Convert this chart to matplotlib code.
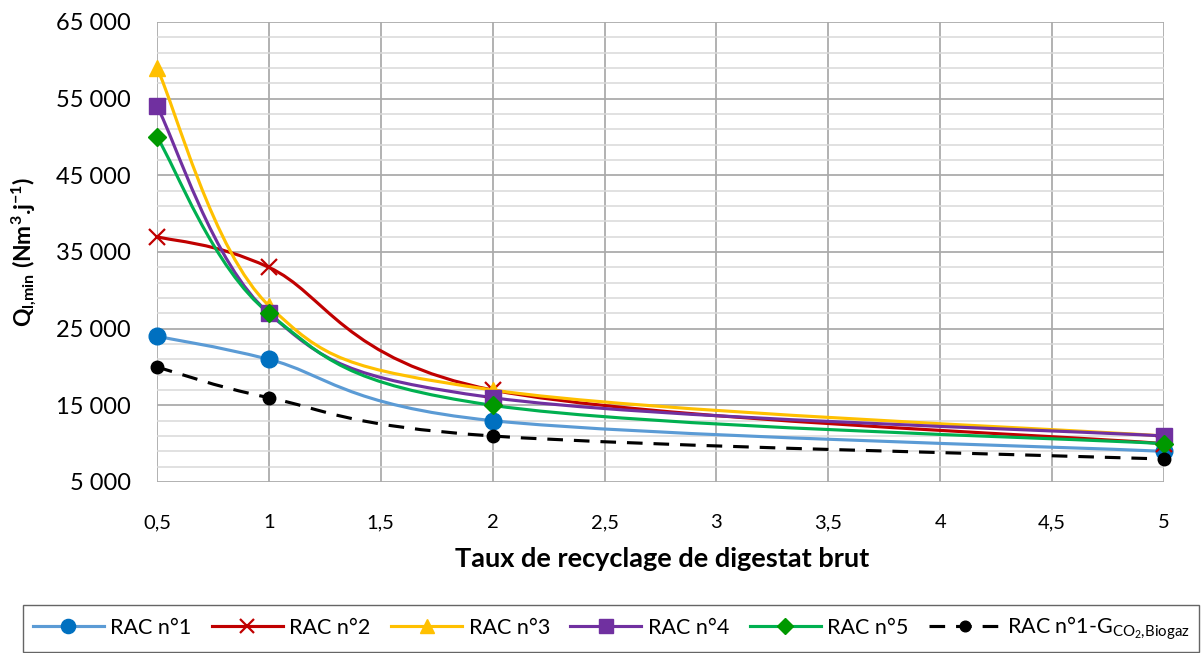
import matplotlib
matplotlib.use('Agg')
import matplotlib.pyplot as plt
from matplotlib.path import Path
from matplotlib.patches import PathPatch
from matplotlib.lines import Line2D
from matplotlib.ticker import FuncFormatter, FixedLocator
import numpy as np

plt.rcParams['font.family'] = ['Lato', 'DejaVu Sans']
plt.rcParams['mathtext.default'] = 'regular'

# data
taux = [0.5, 1, 2, 5]
rac1 = [24000, 21000, 13000, 9000]
rac2 = [37000, 33000, 17000, 10000]
rac3 = [59000, 28000, 17000, 11000]
rac4 = [54000, 27000, 16000, 11000]
rac5 = [50000, 27000, 15000, 10000]
rac1_g = [20000, 16000, 11000, 8000]

labels = ['RAC n°1', 'RAC n°2', 'RAC n°3', 'RAC n°4', 'RAC n°5',
          r'RAC n°1-G$_{CO_2{,}Biogaz}$']
x_tick_labels = ['0,5', '1', '1,5', '2', '2,5', '3', '3,5', '4', '4,5', '5']

styles = [
    dict(color='#5B9BD5', mfc='#0070C0', mec='#0070C0', marker='o', ms=12, ls='-'),
    dict(color='#C00000', mfc='#C00000', mec='#C00000', marker='x', ms=12, ls='-', mew=1.6),
    dict(color='#FFC000', mfc='#FFC000', mec='#FFC000', marker='^', ms=12, ls='-'),
    dict(color='#7030A0', mfc='#7030A0', mec='#7030A0', marker='s', ms=12, ls='-'),
    dict(color='#00B050', mfc='#009900', mec='#009900', marker='D', ms=9, ls='-'),
    dict(color='black', mfc='black', mec='black', marker='o', ms=9, ls=(0, (5, 3.5))),
]


def smooth_path(x, y):
    """Excel-like smoothed line: cubic bezier through the points."""
    pts = np.column_stack([x, y]).astype(float)
    n = len(pts)
    verts = [pts[0]]
    codes = [Path.MOVETO]
    for i in range(n - 1):
        p0 = pts[max(i - 1, 0)]
        p1 = pts[i]
        p2 = pts[i + 1]
        p3 = pts[min(i + 2, n - 1)]
        c1 = p1 + (p2 - p0) / 6.0
        c2 = p2 - (p3 - p1) / 6.0
        verts += [c1, c2, p2]
        codes += [Path.CURVE4] * 3
    return Path(verts, codes)


fig = plt.figure(figsize=(12.01, 6.53), dpi=100)
ax = fig.add_axes([157 / 1201, 1 - 482 / 653, (1164 - 157) / 1201, (482 - 22) / 653])

series = [rac1, rac2, rac3, rac4, rac5, rac1_g]
handles = []
for vals, st, lab in zip(series, styles, labels):
    patch = PathPatch(smooth_path(taux, vals), fill=False, edgecolor=st['color'],
                      lw=2.25, linestyle=st['ls'], capstyle='butt', zorder=3)
    ax.add_patch(patch)
    ax.plot(taux, vals, linestyle='none', marker=st['marker'], ms=st['ms'],
            mfc=st['mfc'], mec=st['mec'], mew=st.get('mew', 1.0), zorder=4,
            clip_on=False)
    handles.append(Line2D([], [], color=st['color'], lw=2.25, ls=st['ls'],
                          marker=st['marker'], ms=st['ms'] * 0.85, mfc=st['mfc'],
                          mec=st['mec'], mew=st.get('mew', 1.0)))

ax.set_xlim(0.5, 5)
ax.set_ylim(5000, 65000)
ax.set_xticks(np.arange(0.5, 5.01, 0.5))
ax.set_xticklabels(x_tick_labels)
ax.yaxis.set_major_locator(FixedLocator(np.arange(5000, 65001, 10000)))
ax.yaxis.set_minor_locator(FixedLocator(np.arange(5000, 65001, 2000)))
ax.yaxis.set_major_formatter(FuncFormatter(lambda v, p: f'{int(v):,}'.replace(',', ' ')))

ax.grid(True, which='major', color='#ABABAB', lw=1.3, zorder=1)
ax.grid(True, which='minor', axis='y', color='#D9D9D9', lw=1.1, zorder=0)
ax.set_axisbelow(True)
for s in ax.spines.values():
    s.set_visible(False)
ax.tick_params(axis='both', which='both', length=0, colors='black')
ax.tick_params(axis='y', pad=19, labelsize=17)
ax.tick_params(axis='x', pad=23, labelsize=14.5)

ax.set_xlabel('Taux de recyclage de digestat brut', fontsize=19.5, fontweight='bold')
ax.xaxis.set_label_coords(0.5015, -0.142)
ax.set_ylabel(r'Q$_{l{,}min}$ (Nm$^3$.j$^{-1}$)', fontsize=16.5, fontweight='bold')
ax.yaxis.set_label_coords(-0.117, 0.5)

leg = fig.legend(handles, labels, loc='lower left', ncol=6, mode='expand',
                 bbox_to_anchor=(23 / 1201, 1 / 653, 1176 / 1201, 45 / 653),
                 fontsize=15.5, handlelength=3.3, handletextpad=0.3,
                 columnspacing=0.5, frameon=True, fancybox=False,
                 borderaxespad=0, borderpad=0.45)
leg.get_frame().set_edgecolor('#3F3F3F')
leg.get_frame().set_linewidth(1.0)

fig.savefig('out.png', dpi=100)
